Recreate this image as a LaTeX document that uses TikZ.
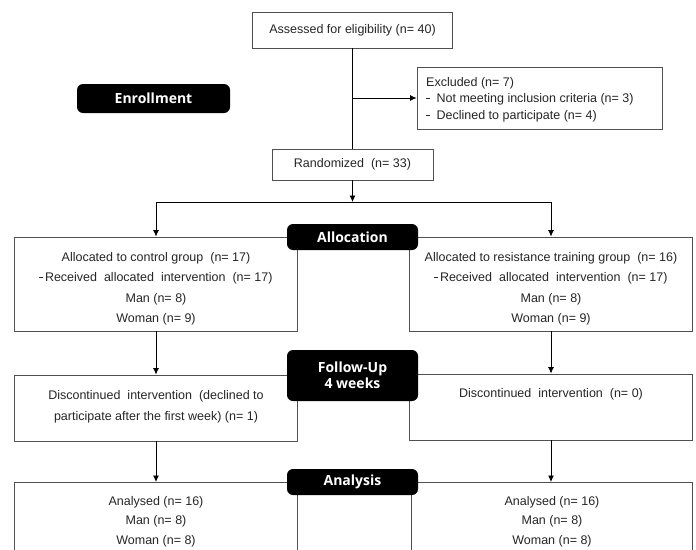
\documentclass[tikz,border=0pt]{standalone}
\usepackage{fontspec}
\setmainfont{Liberation Sans}
\newfontfamily\tagfont{Open Sans}
\usetikzlibrary{arrows.meta}
\definecolor{boxgray}{HTML}{505050}
\definecolor{txtgray}{HTML}{262626}
\newcommand\smdash{\raisebox{0.62ex}{\rule{0.28em}{0.55pt}}}
\begin{document}
\begin{tikzpicture}[x=1pt,y=-1pt,
  box/.style={draw=boxgray, line width=0.9pt, fill=white, inner sep=0pt},
  txt/.style={inner sep=0pt, align=center, text=txtgray, font=\fontsize{12.5}{20.5}\selectfont},
  tagbox/.style={fill=black, rounded corners=6pt, text=white, inner sep=0pt, align=center,
    minimum width=131pt, font=\tagfont\bfseries\fontsize{14}{16}\selectfont},
  conn/.style={line width=0.8pt, draw=black},
  arr/.style={conn, -{Latex[length=6.5pt,width=6pt]}}]
\useasboundingbox (0,0) rectangle (696,549);
\clip (0,0) rectangle (696,549);

% enrollment
\node[box, minimum width=200pt, minimum height=36pt] (assess) at (352.5,30) {};
\node[txt] (assesst) at (assess) {Assessed for eligibility (n= 40)};
\node[box, minimum width=245pt, minimum height=62pt] (excl) at (539.5,98) {};
\node[txt, anchor=west, align=left, font=\fontsize{12.5}{16.5}\selectfont] (exclt) at (426,99.5)
  {Excluded (n= 7)\\
   \smdash\ \ Not meeting inclusion criteria (n= 3)\\
   \smdash\ \ Declined to participate (n= 4)};
\node[tagbox, minimum width=153pt, minimum height=29pt] (enroll) at (153.5,98.5) {Enrollment};
\node[box, minimum width=161pt, minimum height=31pt] (random) at (352.5,164.5) {};
\node[txt] (randomt) at (random) {Randomized\ \ (n= 33)};

\coordinate (exclpt) at (assess.south |- excl.west);
\draw[conn] (assess.south) -- (random.north);
\draw[arr] (exclpt) -- (excl.west);

% allocation
\node[box, minimum width=283pt, minimum height=94pt] (allocL) at (156,284) {};
\node[box, minimum width=283pt, minimum height=94pt] (allocR) at (551,284) {};
\node[txt] (allocLt) at (156,289)
  {Allocated to control group\ \ (n= 17)\\
   \smdash\,Received\ \ allocated\ \ intervention\ \ (n= 17)\\
   Man (n= 8)\\ Woman (n= 9)};
\node[txt] (allocRt) at (551,289)
  {Allocated to resistance training group\ \ (n= 16)\\
   \smdash\,Received\ \ allocated\ \ intervention\ \ (n= 17)\\
   Man (n= 8)\\ Woman (n= 9)};
\node[tagbox, minimum height=26pt] (alloc) at (352.5,237) {Allocation};

\coordinate (split) at (352.5,202);
\draw[arr] (random.south) -- (split);
\draw[conn] (allocL.north |- split) -- (allocR.north |- split);
\draw[arr] (allocL.north |- split) -- (allocL.north);
\draw[arr] (allocR.north |- split) -- (allocR.north);

% follow-up
\node[box, minimum width=283pt, minimum height=66pt] (fuL) at (156,408) {};
\node[box, minimum width=283pt, minimum height=66pt] (fuR) at (551,407) {};
\node[txt, font=\fontsize{12.5}{21}\selectfont] (fuLt) at (156,407)
  {Discontinued\ \ intervention\ \ (declined to\\
   participate after the first week) (n= 1)};
\node[txt] (fuRt) at (551,394) {Discontinued\ \ intervention\ \ (n= 0)};
\node[tagbox, minimum height=51pt] (follow) at (352.5,375.5) {Follow-Up\\4 weeks};

\draw[arr] (allocL.south) -- (fuL.north);
\draw[arr] (allocR.south) -- (fuR.north);

% analysis
\node[box, minimum width=283pt, minimum height=90pt, anchor=north] (anL) at (156,482) {};
\node[box, minimum width=281pt, minimum height=90pt, anchor=north] (anR) at (552,482) {};
\node[txt, font=\fontsize{12.5}{19.7}\selectfont] (anLt) at (156,521.5)
  {Analysed (n= 16)\\ Man (n= 8)\\ Woman (n= 8)};
\node[txt, font=\fontsize{12.5}{19.7}\selectfont] (anRt) at (552,521.5)
  {Analysed (n= 16)\\ Man (n= 8)\\ Woman (n= 8)};
\node[tagbox, minimum height=26pt] (analysis) at (352.5,482) {Analysis};

\draw[arr] (fuL.south) -- (anL.north);
\draw[arr] (fuR.south) -- (fuR.south |- anR.north);
\end{tikzpicture}
\end{document}
